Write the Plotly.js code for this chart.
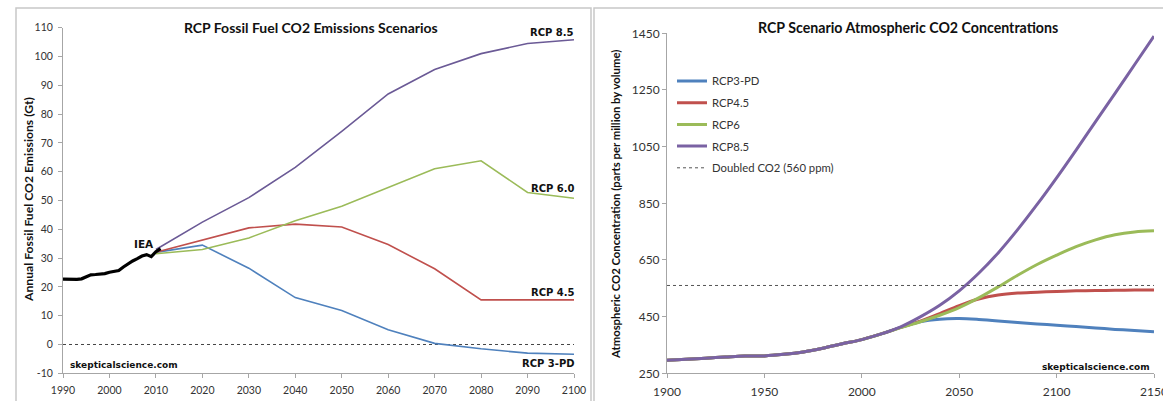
<!DOCTYPE html>
<html>
<head>
<meta charset="utf-8">
<script src="https://cdn.plot.ly/plotly-3.0.1.min.js"></script>
<style>
  html, body { margin: 0; padding: 0; background: #fff; }
  #chart { width: 1163px; height: 401px; }
</style>
</head>
<body>
<div id="chart"></div>
<script>
// ---------- Left panel: emissions (Gt CO2) ----------
const ieaYears = [1990,1991,1992,1993,1994,1995,1996,1997,1998,1999,2000,2001,2002,2003,2004,2005,2006,2007,2008,2009,2010,2011];
const ieaValues = [22.7,22.6,22.5,22.6,22.8,23.5,24.2,24.3,24.4,24.6,25.1,25.4,25.7,26.9,28.1,29.0,29.8,30.7,31.2,30.5,32.2,33.3];

const emisYears = [2010,2020,2030,2040,2050,2060,2070,2080,2090,2100];
const emisRcp85 = [33.0,42.5,51.0,61.5,74.0,87.0,95.5,101.0,104.5,105.8];
const emisRcp60 = [31.5,33.0,37.0,43.0,48.0,54.5,61.0,63.8,52.8,50.8];
const emisRcp45 = [32.0,36.3,40.5,41.8,40.8,34.7,26.3,15.5,15.5,15.5];
const emisRcp3pd = [32.0,34.5,26.5,16.3,11.8,5.1,0.4,-1.5,-3.0,-3.4];

const zeroLineYears = [1990,2100];
const zeroLineValues = [0,0];

// ---------- Right panel: concentrations (ppm) ----------
const histYears = [1900,1910,1920,1930,1940,1950,1960,1970,1980,1990,2000];
const histPpm = [296,300,303.5,307.5,311,311.5,317,325.5,338.5,354,369];

const concYears = [2010,2020,2030,2040,2050,2060,2070,2080,2090,2100,2110,2120,2130,2140,2150];
const concRcp3pd = [389,412,432,441,443,440,435,429,424,420,415,410,405,401,397];
const concRcp45 = [389,412,434,461,489,512,526,533,536,539,541,542,543,544,544];
const concRcp6 = [389,411,432,455,482,516,555,596,634,667,697,721,739,749,753];
const concRcp85 = [389,414,449,490,541,603,675,757,846,940,1038,1138,1238,1339,1440];

const doubledYears = [1900,2150];
const doubledPpm = [560,560];

const leftXTicks = [1990,2000,2010,2020,2030,2040,2050,2060,2070,2080,2090,2100];
const leftYTicks = [-10,0,10,20,30,40,50,60,70,80,90,100,110];
const rightXTicks = [1900,1950,2000,2050,2100,2150];
const rightYTicks = [250,450,650,850,1050,1250,1450];

// ---------- helpers ----------
const W = 1163, H = 401;
const px = x => x / W;
const py = y => 1 - y / H;

const C_BLUE = '#4f81bd', C_RED = '#c0504d', C_GREEN = '#9bbb59', C_PURPLE = '#7a62a3';
const TXT = '#333333';
const AXC = '#a6a6a6';

const traces = [];
// left
traces.push({x: zeroLineYears, y: zeroLineValues, xaxis: 'x', yaxis: 'y', mode: 'lines',
  line: {color: '#444', width: 1, dash: 'dot'}, showlegend: false, hoverinfo: 'skip'});
traces.push({x: emisYears, y: emisRcp3pd, xaxis: 'x', yaxis: 'y', mode: 'lines', line: {color: C_BLUE, width: 1.6}, showlegend: false});
traces.push({x: emisYears, y: emisRcp45, xaxis: 'x', yaxis: 'y', mode: 'lines', line: {color: C_RED, width: 1.6}, showlegend: false});
traces.push({x: emisYears, y: emisRcp60, xaxis: 'x', yaxis: 'y', mode: 'lines', line: {color: C_GREEN, width: 1.6}, showlegend: false});
traces.push({x: emisYears, y: emisRcp85, xaxis: 'x', yaxis: 'y', mode: 'lines', line: {color: '#6b5a96', width: 1.6}, showlegend: false});
traces.push({x: ieaYears, y: ieaValues, xaxis: 'x', yaxis: 'y', mode: 'lines', line: {color: '#000', width: 3.2}, showlegend: false});

// right
const allYears = histYears.concat(concYears);
function conc(series) { return histPpm.concat(series); }
const rightSeries = [
  {name: 'RCP3-PD', y: conc(concRcp3pd), c: C_BLUE},
  {name: 'RCP4.5', y: conc(concRcp45), c: C_RED},
  {name: 'RCP6', y: conc(concRcp6), c: C_GREEN},
  {name: 'RCP8.5', y: conc(concRcp85), c: C_PURPLE}
];
rightSeries.forEach((s, i) => {
  traces.push({x: allYears, y: s.y, xaxis: 'x2', yaxis: 'y2', mode: 'lines', name: s.name,
    legendgroup: 'g' + i, line: {color: s.c, width: 3, shape: 'spline', smoothing: 1}});
});
traces.push({x: doubledYears, y: doubledPpm, xaxis: 'x2', yaxis: 'y2', mode: 'lines', name: 'Doubled CO2 (560 ppm)',
  legendgroup: 'g9', line: {color: '#555', width: 1, dash: 'dot'}});

const tickFontL = {family: 'Lato, sans-serif', size: 10.5, color: TXT};
const tickFontR = {family: 'Lato, sans-serif', size: 12, color: TXT};
const axisCommon = {showgrid: false, zeroline: false, showline: true, linecolor: AXC, linewidth: 1,
  ticks: 'outside', ticklen: 4, tickcolor: AXC, tickwidth: 1, fixedrange: true};

const bold = (s) => '<b>' + s + '</b>';
const annFont = (size) => ({family: 'DejaVu Sans, Verdana, sans-serif', size: size, color: '#111'});

const annotations = [
  // titles
  {text: bold('RCP Fossil Fuel CO2 Emissions Scenarios'), x: px(311), y: py(28), xref: 'paper', yref: 'paper',
   xanchor: 'center', yanchor: 'middle', showarrow: false, font: {family: 'Lato, sans-serif', size: 14, color: '#111'}},
  {text: bold('RCP Scenario Atmospheric CO2 Concentrations'), x: px(908), y: py(28), xref: 'paper', yref: 'paper',
   xanchor: 'center', yanchor: 'middle', showarrow: false, font: {family: 'Lato, sans-serif', size: 14.2, color: '#111'}},
  // axis titles
  {text: bold('Annual Fossil Fuel CO2 Emissions (Gt)'), x: px(28), y: py(200), xref: 'paper', yref: 'paper',
   textangle: -90, xanchor: 'center', yanchor: 'middle', showarrow: false, font: {family: 'Lato, sans-serif', size: 12.2, color: '#111'}},
  {text: bold('Atmospheric CO2 Concentration (parts per million by volume)'), x: px(615), y: py(205), xref: 'paper', yref: 'paper',
   textangle: -90, xanchor: 'center', yanchor: 'middle', showarrow: false, font: {family: 'Lato, sans-serif', size: 11.3, color: '#111'}},
  // series labels (left)
  {text: bold('RCP 8.5'), x: px(576), y: py(33), xref: 'paper', yref: 'paper', xanchor: 'right', yanchor: 'middle', showarrow: false, font: annFont(10)},
  {text: bold('RCP 6.0'), x: px(577), y: py(188), xref: 'paper', yref: 'paper', xanchor: 'right', yanchor: 'middle', showarrow: false, font: annFont(10)},
  {text: bold('RCP 4.5'), x: px(577), y: py(292), xref: 'paper', yref: 'paper', xanchor: 'right', yanchor: 'middle', showarrow: false, font: annFont(10)},
  {text: bold('RCP 3-PD'), x: px(577), y: py(363), xref: 'paper', yref: 'paper', xanchor: 'right', yanchor: 'middle', showarrow: false, font: annFont(10)},
  {text: bold('IEA'), x: px(144), y: py(244), xref: 'paper', yref: 'paper', xanchor: 'center', yanchor: 'middle', showarrow: false, font: annFont(10.5)},
  {text: bold('skepticalscience.com'), x: px(68), y: py(365), xref: 'paper', yref: 'paper', xanchor: 'left', yanchor: 'middle', showarrow: false, font: annFont(9)},
  {text: bold('skepticalscience.com'), x: px(1152), y: py(367), xref: 'paper', yref: 'paper', xanchor: 'right', yanchor: 'middle', showarrow: false, font: annFont(9)}
];

const shapes = [
  {type: 'rect', xref: 'paper', yref: 'paper', x0: px(16), x1: px(591), y0: -0.1, y1: py(8),
   line: {color: '#c8c8c8', width: 1.5}, fillcolor: 'rgba(0,0,0,0)', layer: 'below'},
  {type: 'rect', xref: 'paper', yref: 'paper', x0: px(594), x1: 1.1, y0: -0.1, y1: py(8),
   line: {color: '#c8c8c8', width: 1.5}, fillcolor: 'rgba(0,0,0,0)', layer: 'below'}
];

const layout = {
  width: W, height: H,
  margin: {l: 0, r: 0, t: 0, b: 0, pad: 0},
  paper_bgcolor: '#fff', plot_bgcolor: 'rgba(0,0,0,0)',
  showlegend: true,
  legend: {x: px(672), y: py(66.5), xanchor: 'left', yanchor: 'top', bgcolor: 'rgba(0,0,0,0)',
    traceorder: 'grouped', tracegroupgap: 2.7, itemwidth: 30,
    font: {family: 'Lato, sans-serif', size: 11.3, color: TXT}},
  xaxis: Object.assign({}, axisCommon, {domain: [px(63), px(574)], range: [1990, 2100], anchor: 'y',
    tickmode: 'array', tickvals: leftXTicks, ticktext: leftXTicks.map(String), tickfont: tickFontL,
    ticklabelstandoff: 3}),
  yaxis: Object.assign({}, axisCommon, {domain: [py(373.3), py(27.7)], range: [-10, 110], anchor: 'x',
    tickmode: 'array', tickvals: leftYTicks, ticktext: leftYTicks.map(String), tickfont: tickFontL,
    ticklabelstandoff: 3}),
  xaxis2: Object.assign({}, axisCommon, {domain: [px(667), px(1154)], range: [1900, 2150], anchor: 'y2',
    tickmode: 'array', tickvals: rightXTicks, ticktext: rightXTicks.map(String), tickfont: tickFontR,
    ticklabeloverflow: 'allow', ticklabelstandoff: 3}),
  yaxis2: Object.assign({}, axisCommon, {domain: [py(373.3), py(33.3)], range: [250, 1450], anchor: 'x2',
    tickmode: 'array', tickvals: rightYTicks, ticktext: rightYTicks.map(String), tickfont: tickFontR}),
  annotations: annotations,
  shapes: shapes,
  hovermode: false
};

Plotly.newPlot('chart', traces, layout, {displayModeBar: false, staticPlot: true});
</script>
</body>
</html>
